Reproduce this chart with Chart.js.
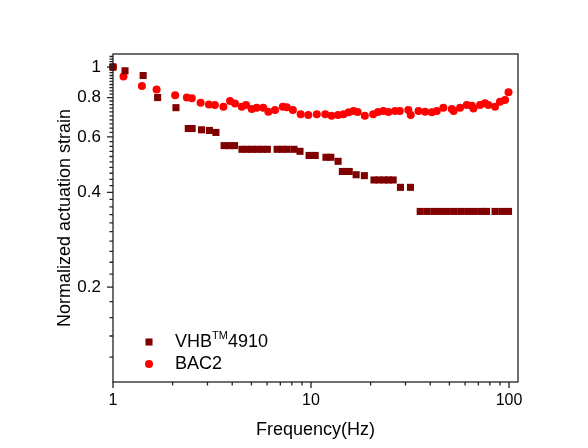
<!DOCTYPE html>
<html>
<head>
<meta charset="utf-8">
<script src="https://cdn.jsdelivr.net/npm/chart.js@4/dist/chart.umd.min.js"></script>
<style>
  html, body { margin: 0; padding: 0; background: #fff; }
</style>
</head>
<body>
<canvas id="strainChart" width="588" height="448"></canvas>
<script>
    // VHB 4910 (dark red squares)
    const vhbFreq = [1.0, 1.15, 1.42, 1.68, 2.08, 2.40, 2.51, 2.80, 3.07, 3.31, 3.64, 3.88, 4.11,
      4.48, 4.75, 5.03, 5.33, 5.65, 6.02, 6.74, 7.14, 7.57, 8.2, 8.8, 9.78, 10.5, 11.9, 12.6, 13.7,
      14.4, 15.0, 15.6, 16.9, 18.6, 20.8, 22.0, 23.4, 24.6, 26.0, 28.3, 31.8,
      35.6, 38.5, 41.7, 45.1, 48.8, 52.8, 57.1, 61.8, 66.8, 72.3, 77.0, 85.0, 92.0, 99.4];
    const vhbValue = [1.0, 0.973, 0.94, 0.80, 0.743, 0.638, 0.638, 0.632, 0.629, 0.62, 0.563, 0.563, 0.563,
      0.548, 0.548, 0.548, 0.548, 0.548, 0.548, 0.548, 0.548, 0.548, 0.548, 0.54, 0.524, 0.524, 0.517, 0.517, 0.502,
      0.466, 0.466, 0.466, 0.455, 0.452, 0.438, 0.438, 0.438, 0.438, 0.438, 0.415, 0.415,
      0.348, 0.348, 0.348, 0.348, 0.348, 0.348, 0.348, 0.348, 0.348, 0.348, 0.348, 0.348, 0.348, 0.348];

    // BAC2 (red circles)
    const bacFreq = [1.0, 1.13, 1.40, 1.66, 2.06, 2.36, 2.50, 2.77, 3.05, 3.27, 3.61, 3.90, 4.13, 4.47,
      4.70, 5.02, 5.32, 5.74, 6.09, 6.58, 7.20, 7.54, 8.1, 8.87, 9.69, 10.7, 11.8, 12.7, 13.7, 14.6, 15.5,
      16.4, 17.2, 18.7, 20.6, 21.8, 23.2, 24.6, 26.6, 28.1, 31.0, 31.9, 34.9, 37.7, 40.7, 43.2, 46.6,
      51.4, 52.5, 56.6, 61.2, 64.9, 66.1, 71.4, 75.6, 78.6, 85.0, 90.0, 95.5, 99.4];
    const bacValue = [1.0, 0.933, 0.871, 0.848, 0.814, 0.800, 0.796, 0.770, 0.760, 0.758, 0.748, 0.780, 0.766, 0.748,
      0.757, 0.736, 0.743, 0.743, 0.721, 0.730, 0.748, 0.745, 0.730, 0.708, 0.704, 0.708, 0.708, 0.701, 0.704, 0.708, 0.718,
      0.725, 0.720, 0.701, 0.708, 0.720, 0.725, 0.720, 0.725, 0.725, 0.730, 0.704, 0.725, 0.721, 0.718, 0.725, 0.743,
      0.736, 0.725, 0.743, 0.758, 0.754, 0.739, 0.758, 0.767, 0.758, 0.748, 0.776, 0.786, 0.832];

    const xTickLabels = [1, 10, 100];
    const yTickLabels = [0.2, 0.4, 0.6, 0.8, 1];
    const xMinorTicks = [2, 3, 4, 5, 6, 7, 8, 9, 20, 30, 40, 50, 60, 70, 80, 90];
    // minor ticks every 0.02 on the y axis
    const yMinorTicks = [];
    for (let i = 6; i <= 54; i++) { if (i % 10 !== 0) yMinorTicks.push(i * 0.02); }

    const FONT = '"Liberation Sans", Arial, sans-serif';
    const toPoints = (xs, ys) => xs.map((x, i) => ({ x: x, y: ys[i] }));

    // axis box, tick marks and the little legend in the lower left corner
    const framePlugin = {
      id: 'frame',
      afterDraw(chart) {
        const { ctx, chartArea: a, scales } = chart;
        ctx.save();
        ctx.strokeStyle = '#222';
        ctx.lineWidth = 1.3;
        ctx.strokeRect(a.left, a.top, a.right - a.left, a.bottom - a.top);

        ctx.beginPath();
        xTickLabels.forEach(v => { const px = scales.x.getPixelForValue(v); ctx.moveTo(px, a.bottom); ctx.lineTo(px, a.bottom + 6); });
        xMinorTicks.forEach(v => { const px = scales.x.getPixelForValue(v); ctx.moveTo(px, a.bottom); ctx.lineTo(px, a.bottom + 3.5); });
        yTickLabels.forEach(v => { const py = scales.y.getPixelForValue(v); ctx.moveTo(a.left, py); ctx.lineTo(a.left - 6, py); });
        yMinorTicks.forEach(v => { const py = scales.y.getPixelForValue(v); ctx.moveTo(a.left, py); ctx.lineTo(a.left - 3.5, py); });
        ctx.stroke();

        // legend
        const lx = a.left + 36;
        const y1 = a.bottom - 40, y2 = a.bottom - 18;
        ctx.fillStyle = '#800000';
        Chart.helpers.drawPoint(ctx, { pointStyle: 'rect', radius: 5, borderWidth: 0 }, lx, y1);
        ctx.fillStyle = '#ff0000';
        Chart.helpers.drawPoint(ctx, { pointStyle: 'circle', radius: 4, borderWidth: 0 }, lx, y2);

        ctx.fillStyle = '#000';
        ctx.textBaseline = 'middle';
        ctx.textAlign = 'left';
        let tx = lx + 26;
        ctx.font = '18px ' + FONT;
        ctx.fillText('VHB', tx, y1);
        tx += ctx.measureText('VHB').width;
        ctx.font = '11px ' + FONT;
        ctx.fillText('TM', tx, y1 - 6);
        tx += ctx.measureText('TM').width;
        ctx.font = '18px ' + FONT;
        ctx.fillText('4910', tx, y1);
        ctx.fillText('BAC2', lx + 26, y2);
        ctx.restore();
      }
    };

    const ctxStrain = document.getElementById('strainChart');
    new Chart(ctxStrain, {
      type: 'scatter',
      data: {
        datasets: [
          {
            label: 'VHB4910',
            data: toPoints(vhbFreq, vhbValue),
            pointStyle: 'rect',
            pointRadius: 5,
            backgroundColor: '#800000',
            borderColor: '#800000',
            borderWidth: 0,
            clip: false
          },
          {
            label: 'BAC2',
            data: toPoints(bacFreq, bacValue),
            pointStyle: 'circle',
            pointRadius: 4,
            backgroundColor: '#ff0000',
            borderColor: '#ff0000',
            borderWidth: 0,
            clip: false
          }
        ]
      },
      options: {
        responsive: false,
        animation: false,
        layout: { padding: { top: 54, right: 70, left: 0, bottom: 0 } },
        plugins: { legend: { display: false }, tooltip: { enabled: false } },
        scales: {
          x: {
            type: 'logarithmic',
            min: 1,
            max: 111,
            grid: { display: false, drawTicks: false },
            border: { display: false },
            afterFit: s => { s.height = 66; },
            afterBuildTicks: s => { s.ticks = xTickLabels.map(v => ({ value: v })); },
            ticks: { padding: 9, color: '#000', font: { family: FONT, size: 16 }, callback: v => String(v), maxRotation: 0 },
            title: { display: true, text: 'Frequency(Hz)', color: '#000', font: { family: FONT, size: 18 }, padding: { top: 0, bottom: 7 } }
          },
          y: {
            type: 'logarithmic',
            min: 0.1,
            max: 1.1,
            grid: { display: false, drawTicks: false },
            border: { display: false },
            afterFit: s => { s.width = 113; },
            afterBuildTicks: s => { s.ticks = yTickLabels.map(v => ({ value: v })); },
            ticks: { padding: 12, color: '#000', font: { family: FONT, size: 17 }, callback: v => String(v) },
            title: { display: true, text: 'Normalized actuation strain', color: '#000', font: { family: FONT, size: 18 }, padding: { top: 54, bottom: 0 } }
          }
        }
      },
      plugins: [framePlugin]
    });
</script>
</body>
</html>
